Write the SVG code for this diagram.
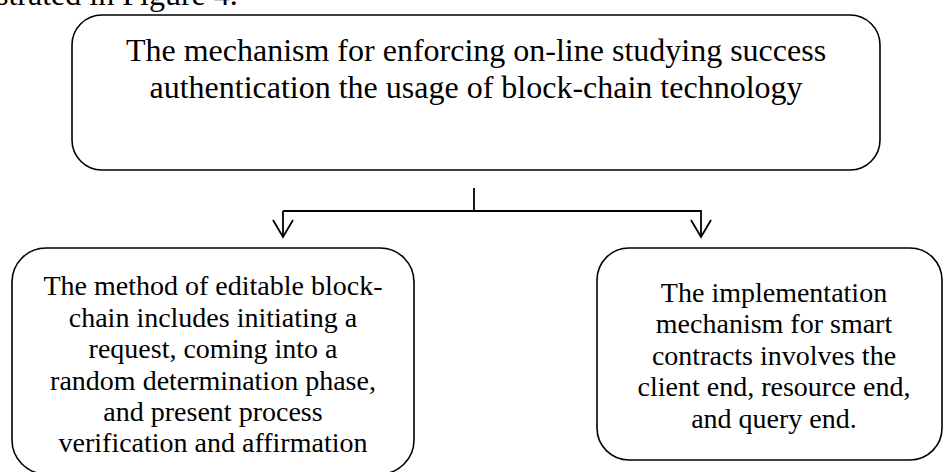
<svg xmlns="http://www.w3.org/2000/svg" width="944" height="472" viewBox="0 0 944 472">
<style>
.box{fill:#fff;stroke:#000;stroke-width:1.6}
.t{font-family:"Liberation Serif","Times New Roman",serif;fill:#000;text-anchor:middle}
.big{font-size:32px}
.sm{font-size:28px}
.con{fill:none;stroke:#000;stroke-width:1.8}
</style>
<rect width="944" height="472" fill="#fff"/>
<text class="t big" x="-4" y="5" style="text-anchor:start">strated in Figure 4.</text>
<g id="top">
<rect class="box" x="72" y="15" width="808" height="155" rx="30" ry="30"/>
<text class="t big" x="476" y="61">The mechanism for enforcing on-line studying success</text>
<text class="t big" x="476" y="98">authentication the usage of block-chain technology</text>
</g>
<g id="connectors">
<path class="con" d="M474 188V212M283 211H701V237M283 211V237"/>
<path class="con" d="M273 220L283 237L293 220M691 220L701 237L711 220"/>
</g>
<g id="left">
<rect class="box" x="12" y="248" width="402" height="226" rx="34" ry="34"/>
<text class="t sm" x="213" y="295">The method of editable block-</text>
<text class="t sm" x="213" y="327">chain includes initiating a</text>
<text class="t sm" x="213" y="358">request, coming into a</text>
<text class="t sm" x="213" y="390">random determination phase,</text>
<text class="t sm" x="213" y="421">and present process</text>
<text class="t sm" x="213" y="452">verification and affirmation</text>
</g>
<g id="right">
<rect class="box" x="597" y="248" width="345" height="212" rx="32" ry="32"/>
<text class="t sm" x="774" y="302">The implementation</text>
<text class="t sm" x="774" y="333">mechanism for smart</text>
<text class="t sm" x="774" y="365">contracts involves the</text>
<text class="t sm" x="774" y="396">client end, resource end,</text>
<text class="t sm" x="774" y="428">and query end.</text>
</g>
</svg>
